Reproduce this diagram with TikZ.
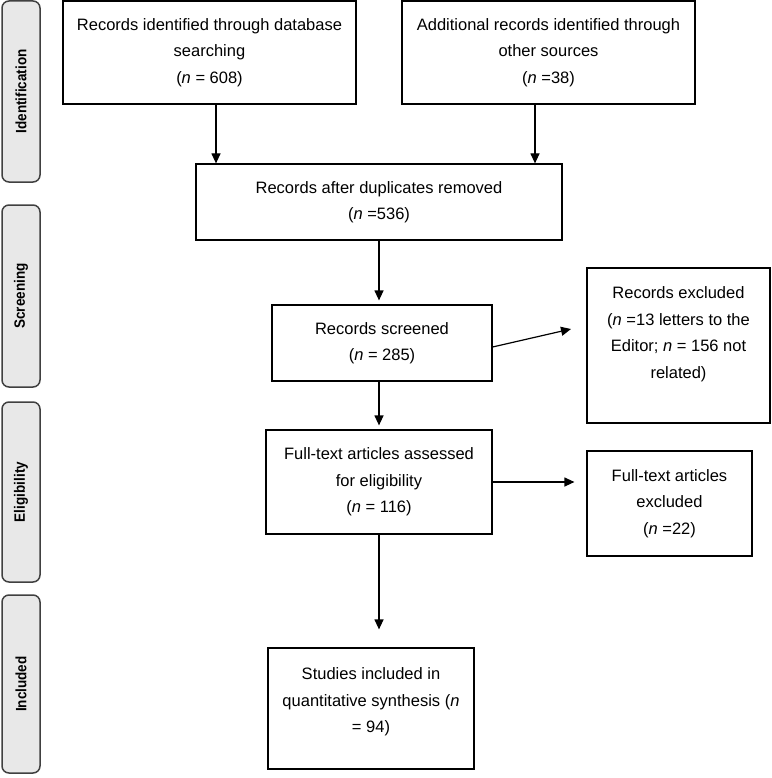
\documentclass[tikz,border=0pt]{standalone}
\usepackage{fontspec}
\setmainfont{Liberation Sans}
\newfontfamily\sidefont{Liberation Sans}[FakeStretch=0.9]
\usetikzlibrary{arrows.meta,calc}
\begin{document}
\begin{tikzpicture}[x=1pt,y=-1pt,
  box/.style={draw, line width=1.2pt, inner sep=0pt, font=\fontsize{16.5}{26.5}\selectfont, align=center},
  txt/.style={inner sep=0pt, font=\fontsize{16.5}{26.5}\selectfont, align=center},
  side/.style={draw=black!75, line width=1.5pt, fill=black!9, rounded corners=7pt, inner sep=0pt,
    rotate=90, minimum height=38pt, font=\sidefont\fontsize{15}{18}\selectfont\bfseries},
  arr/.style={line width=1.2pt, -{Triangle[length=10pt,width=9pt]}}]
\useasboundingbox (0,0) rectangle (771,778);

% phase bars
\node[side, minimum width=181pt] (s1) at (21,91.5) {Identification};
\node[side, minimum width=182pt] (s2) at (21,296) {Screening};
\node[side, minimum width=180pt] (s3) at (21,492) {Eligibility};
\node[side, minimum width=178pt] (s4) at (21,684) {Included};

% boxes
\node[box, minimum width=293pt, minimum height=103pt] (b1) at (209.5,52.5)
  {Records identified through database\\searching\\(\textit{n} = 608)};
\node[box, minimum width=293pt, minimum height=103pt] (b2) at (548.5,52.5)
  {Additional records identified through\\other sources\\(\textit{n} =38)};
\node[box, minimum width=366pt, minimum height=76pt] (b3) at (379,202)
  {Records after duplicates removed\\(\textit{n} =536)};
\node[box, minimum width=220pt, minimum height=76pt] (b4) at (382,343)
  {Records screened\\(\textit{n} = 285)};
\node[box, minimum width=183pt, minimum height=155pt] (b5) at (678.5,345.5) {};
\node[txt] (t5) at (678.5,334)
  {Records excluded\\(\textit{n} =13 letters to the\\Editor; \textit{n} = 156 not\\related)};
\node[box, minimum width=226pt, minimum height=104pt] (b6) at (379,482)
  {Full-text articles assessed\\for eligibility\\(\textit{n} = 116)};
\node[box, minimum width=165pt, minimum height=105pt] (b7) at (669.5,503.5)
  {Full-text articles\\excluded\\(\textit{n} =22)};
\node[box, minimum width=206pt, minimum height=121pt] (b8) at (371,708.5) {};
\node[txt] (t8) at (371,702)
  {Studies included in\\quantitative synthesis (\textit{n}\\= 94)};

\coordinate (e5) at (571,329);

% connectors
\draw[arr] ([xshift=6.5pt]b1.south) -- ([xshift=6.5pt]b1.south |- b3.north);
\draw[arr] ([xshift=-13.5pt]b2.south) -- ([xshift=-13.5pt]b2.south |- b3.north);
\draw[arr, shorten >=4pt] (b3.south) -- (b3.south |- b4.north);
\draw[arr] ([yshift=-4pt]b4.east) -- (e5);
\draw[arr, shorten >=4pt] (b6.north |- b4.south) -- (b6.north);
\draw[arr, shorten >=12pt] (b6.east) -- (b6.east -| b7.west);
\draw[arr, shorten >=18pt] (b6.south) -- (b6.south |- b8.north);
\end{tikzpicture}
\end{document}
